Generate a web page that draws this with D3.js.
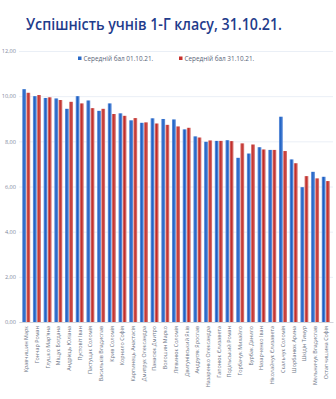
<!DOCTYPE html>
<html>
<head>
<meta charset="utf-8">
<script src="https://cdn.jsdelivr.net/npm/d3@7"></script>
<style>
  body { margin: 0; background: #fff; }
  svg { display: block; font-family: "Open Sans", "DejaVu Sans", sans-serif; }
</style>
</head>
<body>
<div id="chart"></div>
<script>
// Data
const students = [
  "Кравчишин Марк", "Гончар Роман", "Глушко Мар'яна", "Міщук Богдана", "Андрієць Юліана",
  "Пустовіт Іван", "Пастущак Соломія", "Васильків Владислав", "Крив Соломія", "Корнило Софія",
  "Карпинець Анастасія", "Дмитрук Олександра", "Панасюк Дмитро", "Волошин Марко", "Літвинюк Соломія",
  "Двигунівський Яків", "Андрусяк Ярослав", "Назаренко Олександра", "Гапонюк Єлизавета", "Подільський Роман",
  "Горбачук Михайло", "Бурбак Данило", "Назарченко Іван", "Ніколайчук Єлизавета", "Скальчук Соломія",
  "Шорбанюк Арина", "Шкідін Тимур", "Мельничук Владислав", "Остапчишина Софія"
];
const score1 = [10.31, 10.0, 9.92, 9.9, 9.44, 10.0, 9.81, 9.35, 9.68, 9.24,
  8.93, 8.82, 9.02, 8.99, 8.97, 8.53, 8.22, 7.98, 8.02, 8.05,
  7.27, 7.46, 7.74, 7.62, 9.09, 7.2, 5.97, 6.65, 6.43];
const score2 = [10.15, 10.05, 9.95, 9.83, 9.75, 9.68, 9.47, 9.44, 9.21, 9.13,
  9.03, 8.84, 8.79, 8.73, 8.66, 8.6, 8.17, 8.04, 8.02, 8.01,
  7.91, 7.86, 7.64, 7.62, 7.57, 7.03, 6.46, 6.36, 6.24];
const seriesNames = ["Середній бал 01.10.21.", "Середній бал 31.10.21."];
const yTicks = [0, 2, 4, 6, 8, 10, 12];

const W = 336, H = 399;
const margin = { top: 51, right: 3, bottom: 77, left: 19 };
const width = W - margin.left - margin.right,
      height = H - margin.top - margin.bottom;

const svg = d3.select("#chart").append("svg")
  .attr("width", W).attr("height", H);

// gradients to get the shaded bar look
const defs = svg.append("defs");
function grad(id, edge, mid) {
  const g = defs.append("linearGradient").attr("id", id)
    .attr("x1", "0%").attr("x2", "100%").attr("y1", "0%").attr("y2", "0%");
  g.append("stop").attr("offset", "0%").attr("stop-color", edge);
  g.append("stop").attr("offset", "45%").attr("stop-color", mid);
  g.append("stop").attr("offset", "100%").attr("stop-color", edge);
}
grad("gBlue", "#6f9be0", "#1c5fc2");
grad("gRed", "#dc8683", "#c02a26");
const fills = ["url(#gBlue)", "url(#gRed)"];
const legendColors = ["#2a6ac8", "#c8302c"];

// title
svg.append("text")
  .attr("x", 26).attr("y", 30)
  .attr("fill", "#1f3c8c")
  .attr("font-size", 15.5)
  .attr("font-weight", 600)
  .attr("textLength", 256)
  .attr("lengthAdjust", "spacingAndGlyphs")
  .text("Успішність учнів 1-Г класу, 31.10.21.");

const g = svg.append("g").attr("transform", `translate(${margin.left},${margin.top})`);

const x0 = d3.scaleBand().domain(students).range([0, width])
  .paddingInner(0.25).paddingOuter(0.3);
const x1 = d3.scaleBand().domain([0, 1]).range([0, x0.bandwidth()]).paddingInner(0.08);
const y = d3.scaleLinear().domain([0, 12]).range([height, 0]);

// grid + y labels
const yAxis = g.append("g")
  .call(d3.axisLeft(y).tickValues(yTicks).tickSize(-width)
    .tickFormat(d => d3.format(".2f")(d).replace(".", ",")));
yAxis.select(".domain").remove();
yAxis.selectAll("line").attr("stroke", "#eaeff6").attr("stroke-width", 1);
yAxis.selectAll("text").attr("x", -3).attr("fill", "#7f8aa0")
  .attr("font-size", 5.6).attr("font-family", "Open Sans, sans-serif");

// bars
const rows = students.map((s, i) => ({ name: s, vals: [score1[i], score2[i]] }));
const grp = g.selectAll(".grp").data(rows).enter().append("g")
  .attr("transform", d => `translate(${x0(d.name)},0)`);
grp.selectAll("rect").data(d => d.vals).enter().append("rect")
  .attr("x", (d, i) => x1(i))
  .attr("width", x1.bandwidth())
  .attr("y", d => y(d))
  .attr("height", d => y(0) - y(d))
  .attr("fill", (d, i) => fills[i]);

// x axis
const xAxis = g.append("g").attr("transform", `translate(0,${height})`)
  .call(d3.axisBottom(x0).tickSize(0).tickSizeOuter(0));
xAxis.select(".domain").attr("stroke", "#d0d4dc");
xAxis.selectAll("text")
  .attr("transform", "rotate(-90)")
  .attr("text-anchor", "end")
  .attr("x", -4).attr("y", 0).attr("dy", "0.35em")
  .attr("fill", "#6a7385")
  .attr("font-size", 5.4)
  .attr("font-family", "Open Sans, sans-serif");

// legend
const legX = [78, 179];
seriesNames.forEach((n, i) => {
  const lg = svg.append("g").attr("transform", `translate(${legX[i]},59)`);
  lg.append("rect").attr("x", 0).attr("y", -2.5).attr("width", 3.5).attr("height", 3.5)
    .attr("fill", legendColors[i]);
  lg.append("text").attr("x", 5.5).attr("y", 0).attr("dy", "0.35em")
    .attr("font-size", 6.4).attr("fill", "#5a6478").text(n);
});
</script>
</body>
</html>
